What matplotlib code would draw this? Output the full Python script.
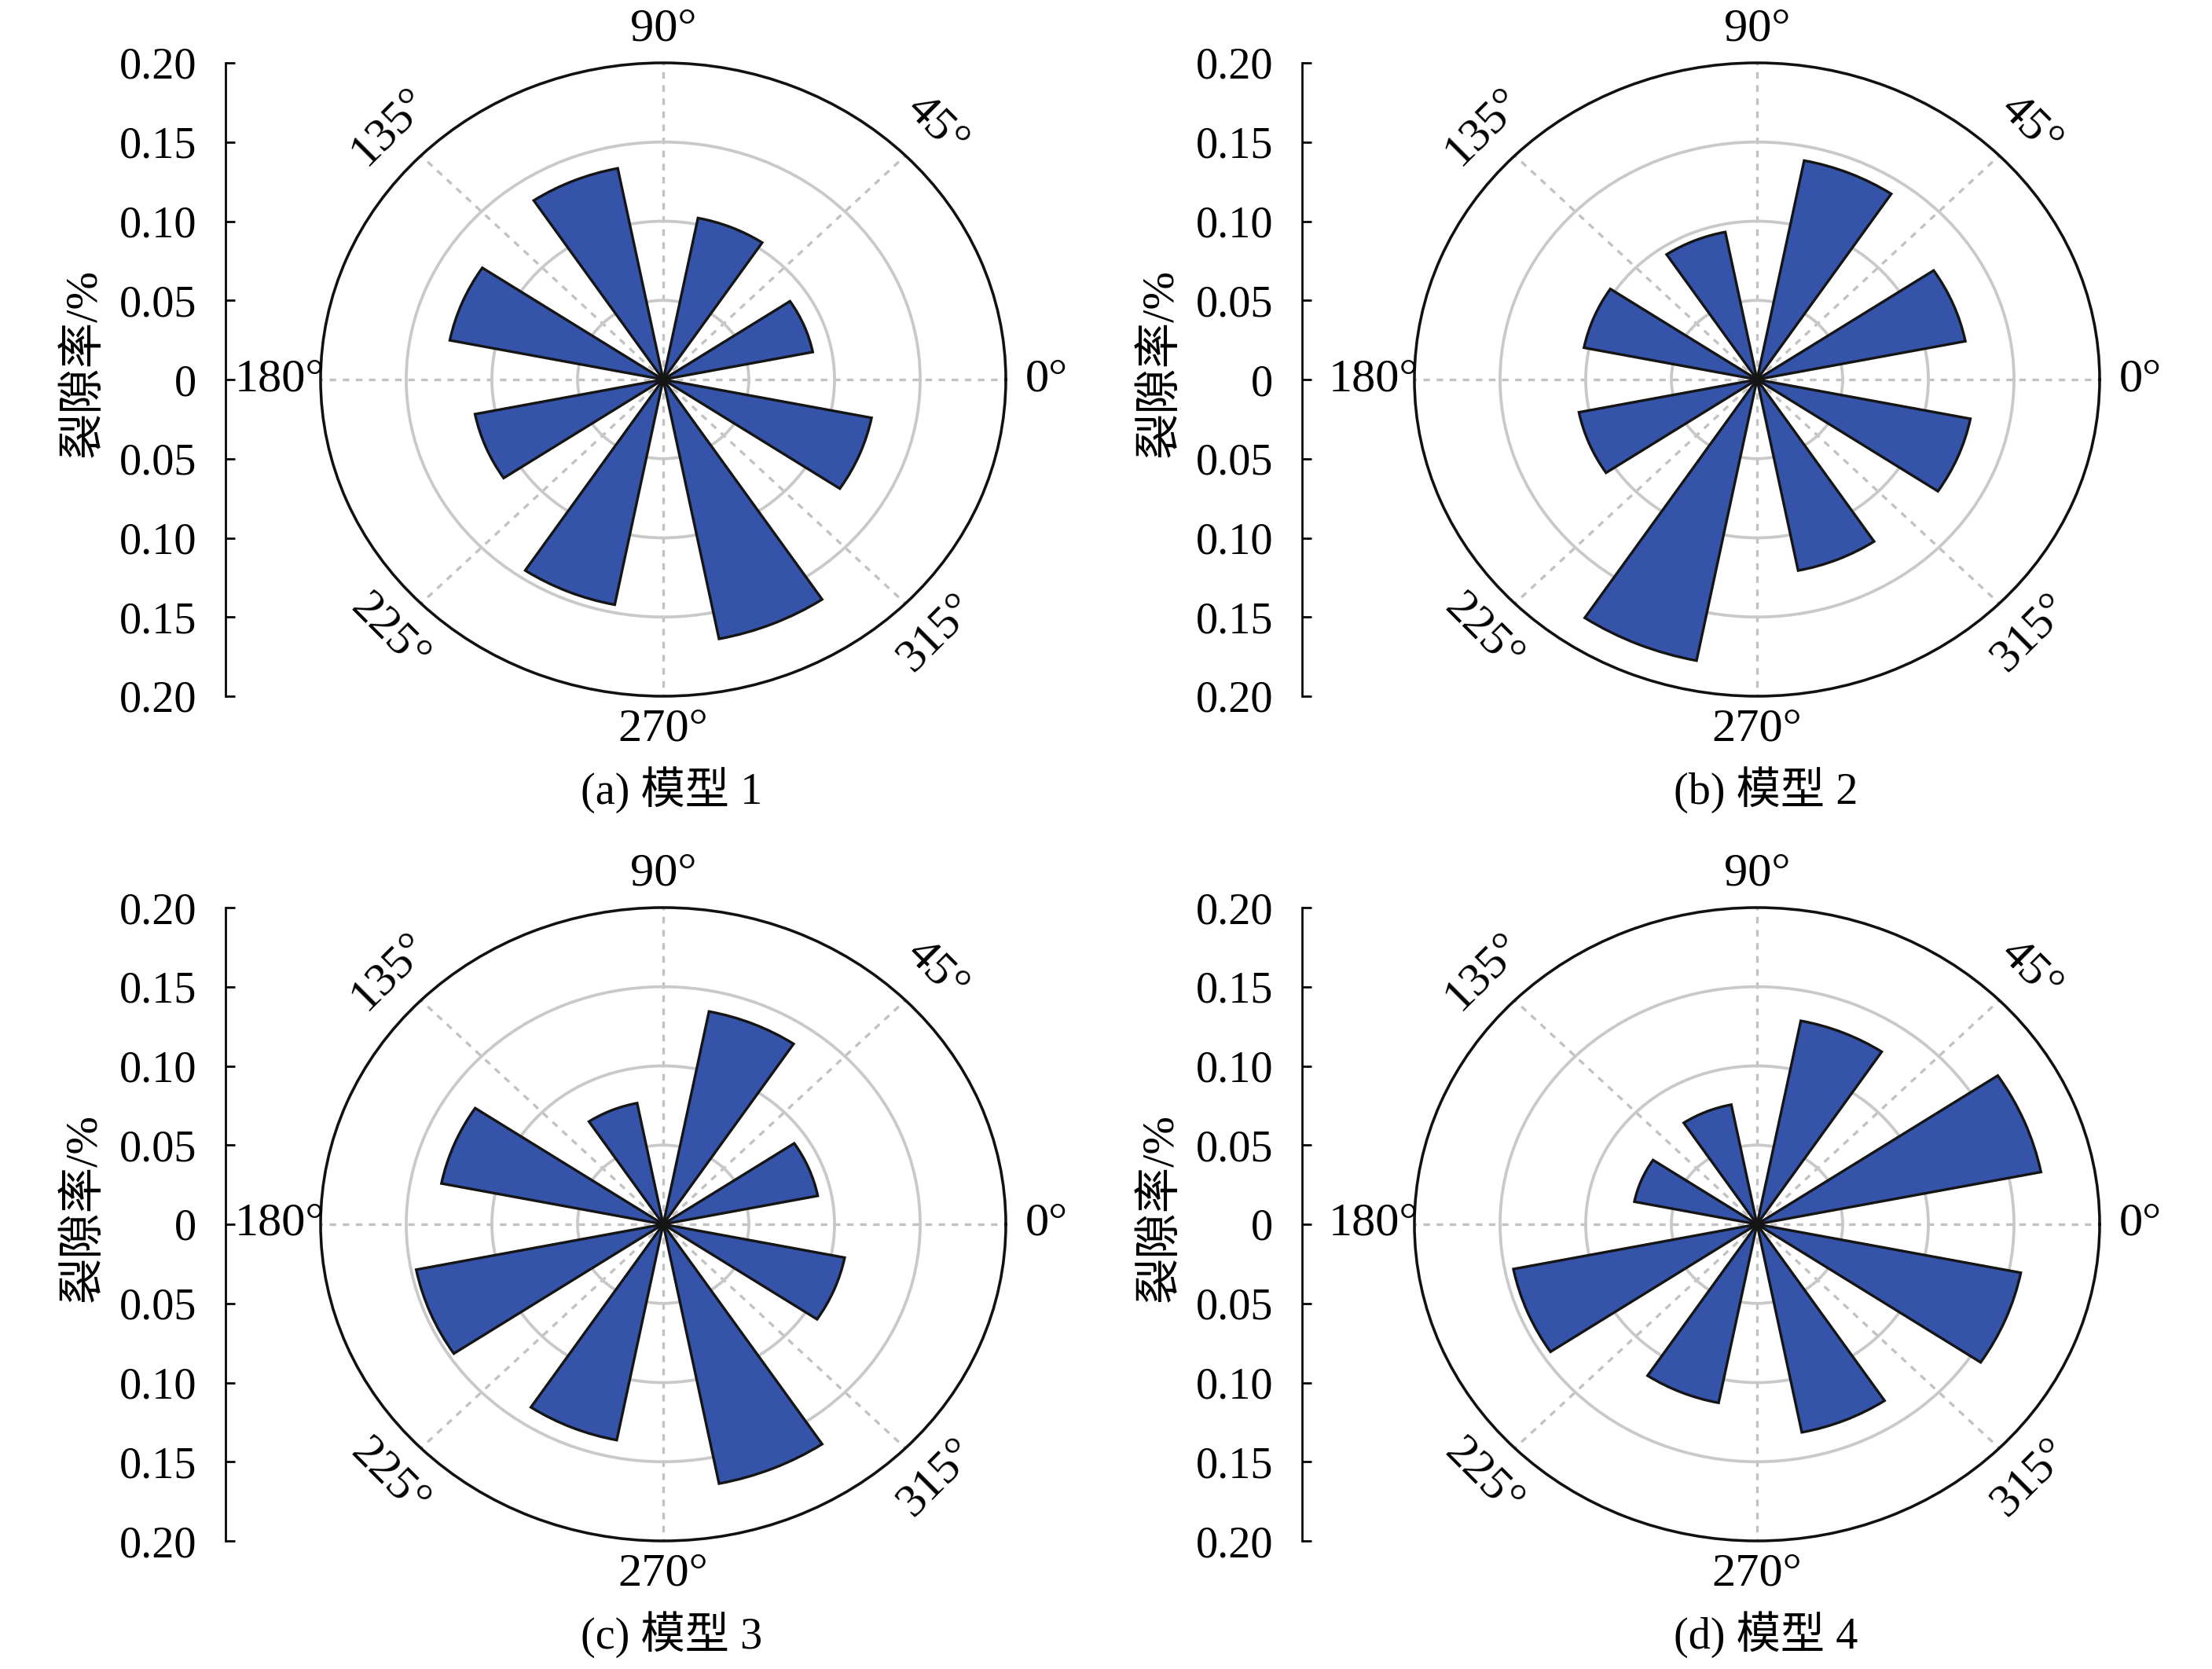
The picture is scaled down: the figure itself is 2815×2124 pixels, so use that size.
import numpy as np
import matplotlib
matplotlib.use('Agg')
import matplotlib.pyplot as plt

# -------------------------
# Fonts
# -------------------------
plt.rcParams['font.family'] = ['Liberation Serif', 'Noto Sans CJK SC']
plt.rcParams['font.size'] = 13.5

# -------------------------
# Data (crack ratio per direction bin)
# -------------------------
bin_centers_deg = [22.5, 67.5, 112.5, 157.5, 202.5, 247.5, 292.5, 337.5]
bin_width_deg = 22.5

model1 = [0.089, 0.104, 0.136, 0.127, 0.112, 0.145, 0.167, 0.124]
model2 = [0.124, 0.141, 0.095, 0.103, 0.106, 0.181, 0.123, 0.127]
model3 = [0.092, 0.137, 0.078, 0.132, 0.147, 0.139, 0.167, 0.108]
model4 = [0.169, 0.131, 0.077, 0.073, 0.145, 0.115, 0.134, 0.157]

captions = ['(a) 模型 1', '(b) 模型 2', '(c) 模型 3', '(d) 模型 4']
ylabel = '裂隙率/%'

theta_ticks_deg = [0, 45, 90, 135, 180, 225, 270, 315]
r_grid = [0.05, 0.10, 0.15]
r_max = 0.20
scale_ticks = [-0.20, -0.15, -0.10, -0.05, 0, 0.05, 0.10, 0.15, 0.20]

bar_color = '#3453a9'

# -------------------------
# Figure layout (pixel positions -> figure fractions)
# -------------------------
W, H = 2815, 2124
fig = plt.figure(figsize=(W / 300, H / 300), dpi=300)

rows = [(80, 886), (1155, 1961)]          # top / bottom of polar boxes (px)
polar_left = [408, 1800]                 # left edge of polar boxes (px)
polar_w = 872
spine_x = [287, 1657]                    # left scale axis position (px)

panels = [model1, model2, model3, model4]

for i, values in enumerate(panels):
    row, col = divmod(i, 2)
    y_top, y_bot = rows[row]
    bottom = (H - y_bot) / H
    height = (y_bot - y_top) / H

    # ---- polar rose ----
    ax = fig.add_axes([polar_left[col] / W, bottom, polar_w / W, height],
                      projection='polar')
    ax.set_aspect('auto')
    ax.bar(np.deg2rad(bin_centers_deg), values,
           width=np.deg2rad(bin_width_deg), bottom=0,
           color=bar_color, edgecolor='#151515', linewidth=0.8, zorder=3)

    ax.set_ylim(0, r_max)
    ax.set_yticks(r_grid)
    ax.set_yticklabels([])
    ax.set_xticks(np.deg2rad(theta_ticks_deg))
    ax.set_xticklabels([])
    ax.set_axisbelow(True)
    ax.yaxis.grid(True, color='#c9c9c9', linestyle='-', linewidth=0.9)
    ax.xaxis.grid(True, color='#c2c2c2', linestyle=(0, (2.5, 2.5)), linewidth=0.8)
    ax.tick_params(axis='x', direction='in', length=4, width=0.8, colors='#111111')
    ax.tick_params(axis='y', length=0)
    ax.spines['polar'].set_linewidth(0.85)
    ax.spines['polar'].set_color('#111111')

    for a in theta_ticks_deg:
        if a in (0, 180):
            f, rot = 1.12, 0
        elif a in (90, 270):
            f, rot = 1.105, 0
        else:
            f = 1.13
            rot = -45 if a in (45, 225) else 45
        ax.text(np.deg2rad(a), r_max * f, f'{a}°', ha='center', va='center',
                rotation=rot, fontsize=14.5, clip_on=False)

    # ---- linear scale axis on the left ----
    axl = fig.add_axes([spine_x[col] / W, bottom, 0.0001, height])
    axl.patch.set_visible(False)
    for s in ('top', 'right', 'bottom'):
        axl.spines[s].set_visible(False)
    axl.spines['left'].set_linewidth(0.65)
    axl.set_ylim(-r_max, r_max)
    axl.set_yticks(scale_ticks)
    axl.set_yticklabels(['0' if v == 0 else f'{abs(v):.2f}' for v in scale_ticks])
    axl.set_xticks([])
    axl.tick_params(axis='y', direction='in', length=2.9, width=0.65,
                    pad=8.9, labelsize=13.5)

    # ---- y label and caption ----
    fig.text((106 + spine_x[col] - 287) / W, (H - (462 + y_top - 80)) / H, ylabel,
             rotation=90, ha='center', va='center', fontsize=14)
    cx = polar_left[col] + polar_w / 2 + 11
    fig.text(cx / W, (H - (y_bot + 119)) / H, captions[i],
             ha='center', va='center', fontsize=13.5)

fig.savefig('out.png', dpi=300)
